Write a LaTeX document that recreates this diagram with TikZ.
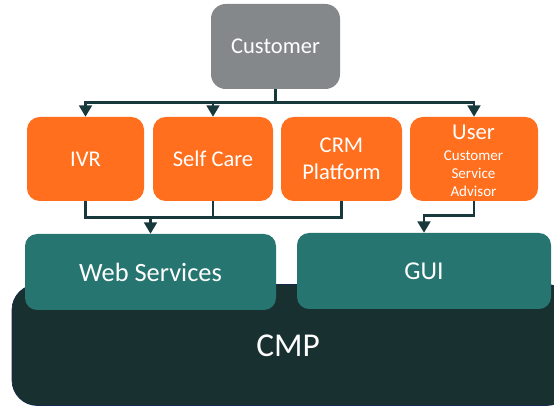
\documentclass[tikz,border=0pt]{standalone}
\usepackage{fontspec}
\setmainfont{Carlito}
\usetikzlibrary{arrows.meta,calc}
\definecolor{orng}{HTML}{FF6F1D}
\definecolor{teal1}{HTML}{267570}
\definecolor{dark1}{HTML}{18302F}
\definecolor{gray1}{HTML}{85888B}
\definecolor{line1}{HTML}{17393B}
\tikzset{
  x=0.75pt,y=-0.75pt,
  box/.style={rectangle,rounded corners=10.5pt,inner sep=0pt,align=center,text=white,font=\fontsize{16.9pt}{20pt}\selectfont},
  orangebox/.style={box,fill=orng,rounded corners=9.5pt},
  tealbox/.style={box,fill=teal1,rounded corners=9pt},
  conn/.style={draw=line1,line width=2pt},
  arr/.style={conn,-{Triangle[length=8.5pt,width=9.5pt]}},
}
\newcommand{\bx}[7]{\node[#1,minimum width=#4*0.75pt,minimum height=#5*0.75pt] (#2) at (#3,#6) {#7};}
\begin{document}
\begin{tikzpicture}
\useasboundingbox (0,0) rectangle (554,406);
\begin{scope}
\clip (0,0) rectangle (554,406);
\node[box,fill=dark1,draw=dark1!85!blue,line width=0.5pt,rounded corners=19pt,minimum width=560*0.75pt,minimum height=121*0.75pt] (cmp) at (292,345) {};
\end{scope}
\node[text=white,font=\fontsize{25pt}{28pt}\selectfont,inner sep=0pt] (cmplabel) at (288,345.5) {CMP};
\bx{box,fill=gray1,rounded corners=11pt}{cust}{275.5}{129}{85}{46.5}{Customer}
\bx{orangebox}{ivr}{85.5}{117}{84}{159}{IVR}
\bx{orangebox}{self}{213}{120}{84}{159}{Self Care}
\bx{orangebox}{crm}{341.5}{121}{84}{159}{CRM\\Platform}
\node[orangebox,minimum width=128*0.75pt,minimum height=84*0.75pt] (user) at (474,159) {};
\node[text=white,inner sep=0pt,font=\fontsize{17pt}{20pt}\selectfont] (userlabel) at (473.5,132.5) {User};
\node[text=white,inner sep=0pt,align=center,font=\fontsize{11.3pt}{13.4pt}\selectfont] (userrole) at (473.5,173.5) {Customer\\Service\\Advisor};
\bx{tealbox,font=\fontsize{19.8pt}{22pt}\selectfont}{web}{150.5}{251}{76}{272}{Web Services}
\bx{tealbox,font=\fontsize{19.3pt}{22pt}\selectfont}{gui}{424}{254}{76}{271}{GUI}
\coordinate (bust) at ($(cust.south)+(0,13.5)$);
\coordinate (busb) at ($(ivr.south)+(0,16)$);
\coordinate (busu) at ($(user.south)+(0,14)$);
\draw[conn] (cust.south) -- (bust);
\draw[arr] (bust) -| (ivr.north);
\draw[arr] (bust) -| (user.north);
\draw[arr] (self.north |- bust) -- (self.north);
\draw[conn] (ivr.south) |- (busb) -| (crm.south);
\draw[conn] (self.south) -- (self.south |- busb);
\draw[arr] (web.north |- busb) -- (web.north);
\draw[arr] (user.south) |- (busu) -| (gui.north);
\end{tikzpicture}
\end{document}
